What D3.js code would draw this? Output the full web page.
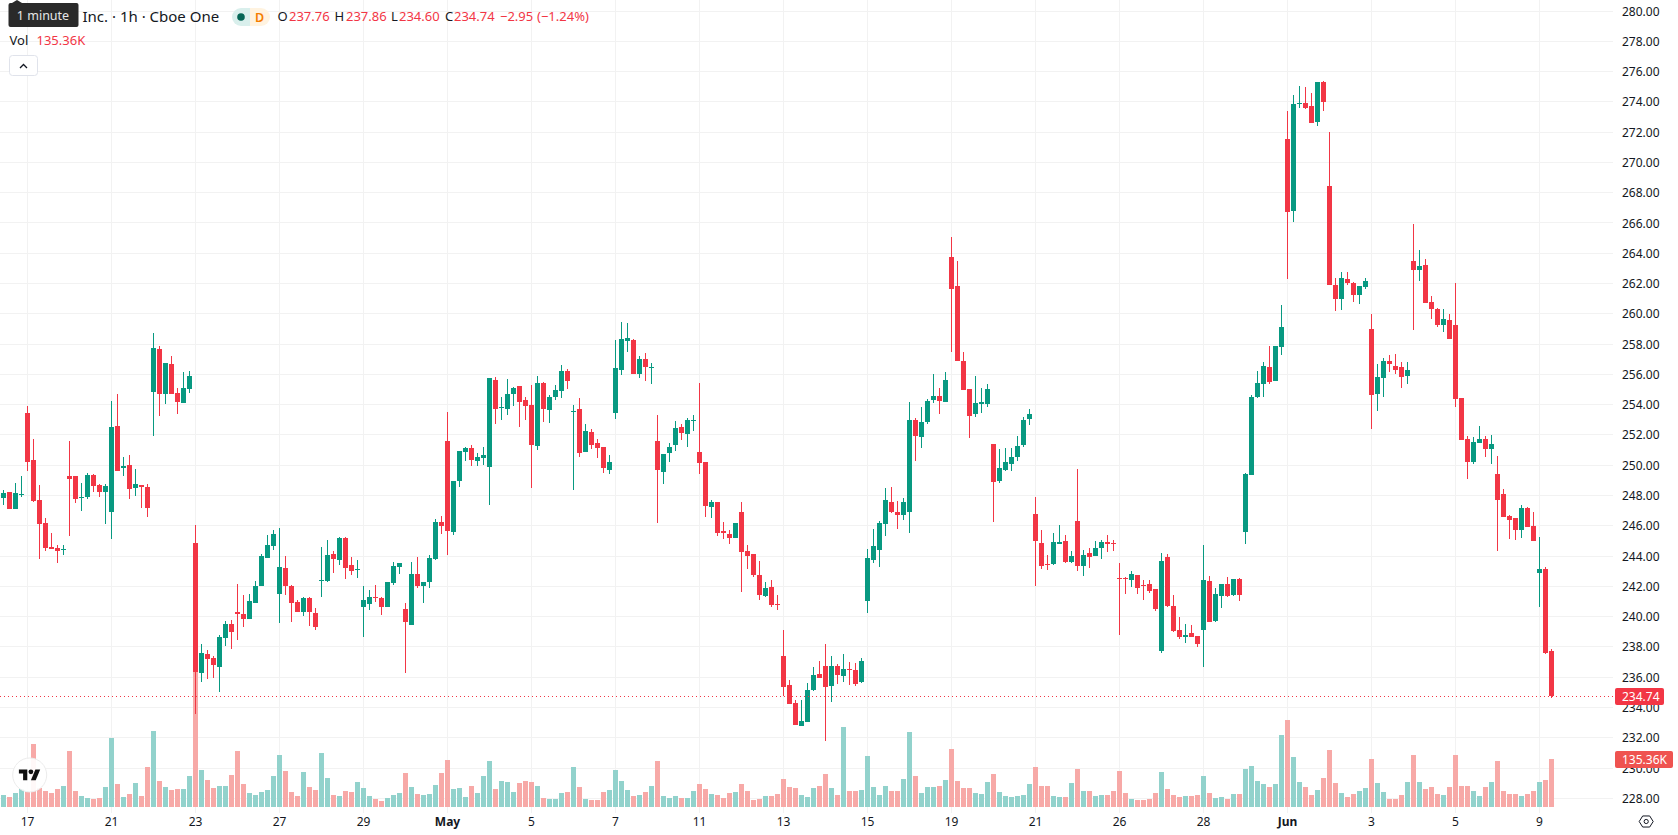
<!DOCTYPE html>
<html>
<head>
<meta charset="utf-8">
<title>Hourly candlesticks</title>
<script src="https://cdn.jsdelivr.net/npm/d3@7"></script>
<style>
  html, body { margin: 0; padding: 0; background: #fff; }
  svg { display: block; }
  text { font-family: "Noto Sans", sans-serif; fill: #131722; }
  .axis path.domain { display: none; }
  .axis line { stroke: #f2f2f2; shape-rendering: crispEdges; }
  .axis text { font-size: 12px; fill: #131722; }
</style>
</head>
<body>
<svg id="chart" width="1678" height="835"></svg>
<script>
// Hourly session bars, oldest first (seven bars per trading day).
const opens = [
  247.83,248.23,247.10,248.03,253.45,250.34,247.70,246.18,244.59,244.53,
  244.40,249.28,249.28,247.83,247.90,249.35,248.69,248.23,246.91,252.59,
  249.81,250.01,248.49,248.69,248.56,254.83,257.67,254.70,256.68,254.77,
  254.11,255.03,244.86,236.27,237.53,237.26,236.67,238.58,239.51,240.30,
  240.17,239.84,240.90,242.02,243.87,244.66,241.49,243.21,242.02,240.96,
  240.30,241.23,240.24,242.35,242.35,244.13,243.74,245.19,243.41,243.08,
  240.63,240.83,241.29,241.23,240.63,242.22,243.27,240.50,239.44,242.81,
  242.02,242.28,243.80,246.25,251.60,245.58,248.95,250.87,251.13,250.27,
  250.47,249.88,255.63,253.78,253.71,254.70,255.23,254.30,253.97,251.27,
  255.43,253.64,254.50,254.90,256.22,253.51,253.71,250.87,252.19,251.46,
  251.20,249.68,253.45,256.29,258.20,258.27,256.02,257.01,256.42,251.60,
  249.55,250.80,251.33,252.52,252.06,252.92,250.87,250.21,247.24,247.57,
  245.65,245.45,245.19,246.91,244.33,244.13,242.74,241.36,241.95,240.83,
  237.39,235.48,234.29,232.77,233.03,235.15,236.20,236.73,235.41,236.73,
  236.07,236.53,236.47,235.68,241.03,243.73,244.40,246.11,247.57,246.91,
  246.71,246.91,252.98,251.86,252.85,254.30,254.57,254.17,263.75,261.84,
  256.88,255.03,253.38,254.04,254.04,251.40,248.95,249.68,250.08,250.54,
  251.33,253.05,246.77,244.86,243.47,243.47,244.79,244.99,243.60,246.31,
  243.34,244.20,244.00,244.53,244.92,244.86,242.55,242.57,242.41,242.74,
  242.08,242.15,241.82,237.72,243.93,240.70,239.11,238.65,238.91,238.71,
  239.11,242.35,239.71,241.36,242.15,241.42,242.48,245.58,249.35,254.50,
  255.36,256.48,255.56,257.81,271.55,266.79,273.86,273.92,273.73,272.67,
  275.31,268.44,261.90,260.98,262.30,262.03,261.24,261.77,259.00,254.70,
  255.76,256.88,256.55,256.48,255.89,263.49,262.89,263.22,260.78,260.32,
  259.26,259.59,259.26,254.44,251.73,250.21,251.46,251.73,251.07,249.42,
  248.09,246.64,246.51,245.72,247.17,245.98,242.88,243.14,237.76
];
const highs = [
  248.36,248.23,248.82,249.28,253.91,251.73,248.69,246.51,245.52,244.73,
  244.73,251.60,249.28,248.82,249.48,249.42,248.76,248.76,254.24,254.70,
  250.54,250.67,249.75,248.69,248.76,258.73,257.87,256.75,257.21,255.10,
  256.15,256.22,246.05,238.19,237.79,237.39,238.78,239.71,239.77,242.15,
  241.42,241.49,242.35,244.13,245.39,245.72,245.85,244.00,242.08,241.09,
  241.29,241.29,240.57,244.60,245.06,244.33,245.26,245.26,243.93,243.74,
  242.02,241.75,242.08,241.29,242.28,243.60,243.54,240.90,243.60,243.93,
  242.28,244.07,246.44,246.64,253.51,248.95,250.94,251.20,251.33,250.80,
  251.20,255.76,255.82,254.50,255.69,255.16,255.23,254.50,255.30,255.89,
  255.49,254.63,255.30,256.62,256.35,253.97,254.44,252.72,252.39,251.73,
  251.20,250.67,258.27,259.46,259.39,258.33,257.21,257.41,256.75,253.31,
  250.74,251.46,252.92,252.72,253.12,253.31,255.43,250.21,247.70,247.57,
  246.25,245.72,246.18,247.57,244.73,244.13,243.67,242.28,242.41,241.42,
  239.11,235.81,234.49,234.49,235.61,236.67,237.06,238.19,237.39,236.86,
  237.53,237.00,236.93,237.26,244.46,245.78,246.31,248.49,248.56,247.63,
  247.83,254.17,253.12,253.84,254.37,256.02,255.10,256.15,265.07,263.49,
  257.48,255.03,255.89,255.10,255.36,251.40,251.07,251.13,251.13,251.93,
  253.18,253.71,247.90,245.72,244.07,245.52,246.05,245.39,244.33,249.75,
  244.40,244.53,244.99,245.06,245.39,245.06,243.54,242.61,243.01,242.74,
  242.41,242.41,241.82,244.20,244.13,241.42,239.97,239.51,239.44,238.71,
  244.73,242.68,241.89,242.15,242.61,242.48,242.55,249.48,254.63,256.22,
  256.81,257.87,257.87,260.58,273.40,274.45,275.05,274.98,274.59,275.31,
  275.38,272.01,262.36,262.76,262.76,262.10,261.84,262.36,259.99,256.68,
  257.08,257.28,257.34,256.81,256.81,265.93,264.21,263.62,261.17,260.38,
  260.32,259.99,262.03,254.44,251.93,251.86,252.59,251.93,251.99,250.61,
  248.43,246.71,246.51,247.37,247.24,246.91,245.25,243.27,237.86
];
const lows = [
  247.37,247.10,247.10,247.90,249.61,247.57,243.80,244.33,244.46,243.54,
  244.07,245.32,247.50,246.97,247.76,248.23,247.90,246.11,245.12,249.61,
  249.28,247.76,247.96,247.17,246.58,251.93,253.25,254.04,254.70,253.38,
  254.11,254.77,233.56,235.68,235.88,235.94,235.02,238.06,237.86,238.45,
  239.31,239.84,240.90,242.02,243.87,244.40,239.57,241.42,239.64,240.30,
  240.04,239.38,239.11,241.29,242.28,242.88,243.41,242.48,242.75,242.55,
  238.65,240.43,240.96,240.10,240.63,242.08,242.81,236.27,239.44,241.89,
  240.90,241.89,243.73,245.45,244.07,245.39,248.56,250.27,249.94,249.94,
  250.01,247.37,252.72,252.98,253.31,253.91,252.52,252.98,248.49,251.00,
  252.85,252.79,254.30,254.44,255.03,248.36,250.54,250.87,251.07,250.47,
  249.48,249.42,253.05,255.96,257.48,256.02,255.76,255.56,255.36,246.18,
  248.76,250.21,250.94,251.66,251.20,252.26,249.42,246.58,246.51,245.32,
  245.12,244.79,245.19,241.62,243.14,242.61,241.09,241.29,240.63,240.43,
  234.75,234.22,232.84,232.77,233.03,235.08,235.94,231.78,234.35,235.54,
  235.68,235.48,235.41,235.61,240.23,243.54,243.27,245.32,246.84,245.78,
  246.38,245.52,250.27,251.13,252.72,254.11,253.38,254.17,257.48,256.88,
  254.97,251.79,253.18,253.45,253.84,246.25,248.82,249.61,249.61,250.27,
  251.20,252.65,242.02,243.14,243.07,243.40,244.79,243.54,243.54,243.01,
  242.68,243.21,244.00,243.80,244.26,244.33,238.78,241.49,241.95,241.49,
  241.09,241.55,240.37,237.59,240.63,238.98,238.52,238.25,238.65,237.99,
  236.67,239.64,239.64,240.56,241.29,241.36,241.03,244.79,249.35,254.44,
  254.50,255.36,255.56,257.28,262.30,266.06,273.59,273.53,272.60,272.41,
  273.40,261.90,260.18,260.25,261.90,260.78,260.65,261.64,252.39,253.58,
  254.50,256.15,256.02,255.10,255.36,258.93,262.17,260.71,259.66,259.13,
  258.80,258.33,253.84,251.66,249.09,250.08,251.46,250.54,250.08,244.33,
  246.58,245.12,245.06,245.19,245.92,244.99,240.63,237.53,234.60
];
const closes = [
  248.16,247.10,248.16,248.09,250.21,247.63,246.11,244.53,244.46,244.33,
  244.46,249.09,247.76,247.90,249.35,248.62,248.23,248.62,252.52,249.61,
  249.94,248.43,248.76,248.56,247.17,257.74,254.70,256.75,254.70,254.17,
  255.10,255.89,236.34,237.59,237.20,236.80,238.65,239.51,238.98,240.17,
  239.84,241.03,242.02,244.00,244.73,245.45,243.27,242.02,240.90,240.30,
  241.23,240.30,239.31,242.42,244.07,243.80,245.19,243.21,243.01,243.14,
  241.09,241.29,241.23,240.63,242.28,243.34,243.54,239.64,242.81,242.02,
  242.28,243.87,246.25,245.98,245.65,248.95,250.94,251.13,250.34,250.54,
  250.67,255.76,253.71,253.84,254.70,255.10,254.17,253.91,251.33,255.43,
  253.71,254.50,254.97,256.22,255.56,253.58,250.80,252.26,251.33,251.13,
  249.81,250.21,256.42,258.33,258.40,256.02,257.01,256.48,256.48,249.68,
  250.74,251.20,252.45,252.12,252.98,252.98,250.14,247.30,247.57,245.52,
  245.52,245.19,246.18,244.26,244.00,242.74,241.42,241.89,240.76,240.76,
  235.35,234.22,232.84,233.10,235.15,236.14,235.94,235.35,236.73,236.14,
  236.53,236.47,235.54,237.06,243.87,244.66,246.18,247.70,246.91,246.71,
  247.57,252.98,251.93,252.85,254.24,254.57,254.24,255.63,261.64,256.88,
  254.97,253.25,254.11,254.17,255.03,248.89,249.81,250.21,250.54,251.27,
  252.98,253.38,244.99,243.34,243.40,244.92,244.92,243.60,244.00,243.34,
  244.07,243.93,244.53,244.92,244.79,244.79,242.48,242.48,242.81,241.89,
  242.02,241.69,240.50,243.67,240.70,239.04,238.65,238.78,238.65,238.19,
  242.41,239.64,241.49,242.15,241.36,242.48,241.42,249.42,254.50,255.43,
  256.55,255.49,257.87,259.13,266.72,273.86,273.92,273.59,272.60,275.31,
  273.99,261.90,260.98,262.36,262.03,261.24,261.84,262.17,254.63,255.82,
  256.88,256.68,256.29,255.82,256.29,262.89,263.16,260.71,260.32,259.26,
  259.66,258.33,254.37,251.66,250.21,251.53,251.73,251.07,251.40,247.70,
  246.58,246.38,245.72,247.17,245.92,244.99,243.14,237.59,234.74
];
// Traded volume per bar, in thousands of shares.
const volumes = [
  33.8,28.2,39.5,50.8,43.2,177.7,52.6,45.1,39.5,50.8,
  59.2,157.9,45.1,31.0,25.4,22.6,25.4,56.4,194.6,64.9,
  28.2,36.7,67.7,31.0,112.8,214.3,73.3,56.4,47.9,50.8,
  50.8,87.4,390.0,104.3,76.1,53.6,59.2,59.2,90.2,157.9,
  64.9,39.5,33.8,42.3,47.9,87.4,146.6,101.5,42.3,31.0,
  98.7,56.4,47.9,152.3,81.8,33.8,31.0,45.1,42.3,70.5,
  53.6,31.0,22.6,16.9,25.4,33.8,39.5,95.9,56.4,36.7,
  33.8,36.7,62.0,95.9,132.5,50.8,53.6,28.2,59.2,39.5,
  87.4,129.7,50.8,73.3,70.5,42.3,67.7,73.3,70.5,59.2,
  25.4,22.6,22.6,39.5,42.3,112.8,56.4,22.6,19.7,19.7,
  42.3,47.9,104.3,73.3,47.9,31.0,33.8,42.3,59.2,129.7,
  31.0,25.4,31.0,25.4,25.4,45.1,64.9,50.8,36.7,33.8,
  25.4,39.5,42.3,64.9,45.1,19.7,22.6,31.0,31.0,36.7,
  79.0,56.4,53.6,33.8,28.2,53.6,59.2,93.1,53.6,33.8,
  225.6,45.1,45.1,47.9,143.8,56.4,33.8,59.2,45.1,45.1,
  79.0,211.5,87.4,39.5,56.4,56.4,59.2,76.1,163.6,73.3,
  53.6,53.6,39.5,36.7,70.5,93.1,42.3,31.0,28.2,31.0,
  33.8,64.9,112.8,59.2,59.2,31.0,28.2,28.2,67.7,107.2,
  45.1,45.1,31.0,33.8,33.8,45.1,101.5,39.5,22.6,19.7,
  19.7,22.6,39.5,98.7,50.8,33.8,28.2,31.0,31.0,33.8,
  87.4,39.5,25.4,28.2,22.6,36.7,36.7,107.2,115.6,73.3,
  64.9,56.4,64.9,203.0,245.3,141.0,70.5,56.4,33.8,47.9,
  81.8,160.7,67.7,39.5,28.2,36.7,45.1,53.6,135.4,67.7,
  42.3,22.6,22.6,33.8,70.5,146.6,70.5,50.8,56.4,36.7,
  33.8,56.4,146.6,59.2,59.2,45.1,31.0,56.4,70.5,129.7,
  45.1,36.7,36.7,31.0,36.7,45.1,70.5,76.1,135.36
];
const priceTicks = d3.range(228, 281, 2);
const dateTickBars = [4,18,32,46,60,74,88,102,116,130,144,158,172,186,200,214,228,242,256];
const dateTickLabels = ["17","21","23","27","29","May","5","7","11","13","15","19","21","26","28","Jun","3","5","9"];
const boldDateLabels = ["May","Jun"];
const headerStats = { O: "237.76", H: "237.86", L: "234.60", C: "234.74" };
const lastClose = closes[closes.length - 1];
const lastVolume = volumes[volumes.length - 1];

const UP = "#089981", DOWN = "#F23645";
const UP_VOL = "#92D2CC", DOWN_VOL = "#F7A9A7";

const svg = d3.select("#chart");
const paneRight = 1613, paneBottom = 813;

const x = d3.scaleLinear().domain([0, closes.length - 1]).range([3.5, 1551.5]);
const y = d3.scaleLinear().domain([228, 280]).range([798.3, 11]);
const v = d3.scaleLinear().domain([0, 400]).range([807, 665.2]);

// Axes carry the gridlines as well as the labels.
const yAxis = d3.axisRight(y).tickValues(priceTicks).tickFormat(d3.format(".2f"))
  .tickSize(-paneRight).tickPadding(9).offset(0);
const yAxisG = svg.append("g").attr("class", "axis")
  .attr("transform", `translate(${paneRight},0)`).call(yAxis);
yAxisG.selectAll("text").attr("y", 0.7);

const dateLabel = d3.scaleOrdinal().domain(dateTickBars).range(dateTickLabels);
const xAxis = d3.axisBottom(x).tickValues(dateTickBars).tickFormat(dateLabel)
  .tickSize(-paneBottom).tickPadding(4).offset(0);
const xAxisG = svg.append("g").attr("class", "axis")
  .attr("transform", `translate(0,${paneBottom})`).call(xAxis);
xAxisG.selectAll("text")
  .style("font-weight", d => boldDateLabels.includes(dateLabel(d)) ? 700 : 400);

const bars = d3.range(closes.length);
const isUp = i => closes[i] >= opens[i];

// Volume columns sit behind the candles.
svg.append("g").selectAll("rect").data(bars).join("rect")
  .attr("x", i => x(i) - 2.5).attr("width", 5)
  .attr("y", i => Math.round(v(volumes[i])))
  .attr("height", i => 807 - Math.round(v(volumes[i])))
  .attr("fill", i => isUp(i) ? UP_VOL : DOWN_VOL)
  .attr("shape-rendering", "crispEdges");

const candles = svg.append("g");
candles.selectAll("rect.wick").data(bars).join("rect").attr("class", "wick")
  .attr("x", i => x(i) - 0.5).attr("width", 1)
  .attr("y", i => Math.round(y(highs[i])))
  .attr("height", i => Math.max(1, Math.round(y(lows[i])) - Math.round(y(highs[i]))))
  .attr("fill", i => isUp(i) ? UP : DOWN)
  .attr("shape-rendering", "crispEdges");
candles.selectAll("rect.body").data(bars).join("rect").attr("class", "body")
  .attr("x", i => x(i) - 2.5).attr("width", 5)
  .attr("y", i => Math.round(y(Math.max(opens[i], closes[i]))))
  .attr("height", i => Math.max(1, Math.round(y(Math.min(opens[i], closes[i]))) - Math.round(y(Math.max(opens[i], closes[i])))))
  .attr("fill", i => isUp(i) ? UP : DOWN)
  .attr("shape-rendering", "crispEdges");

// Last price marker: dotted line plus axis tags.
const lastY = Math.floor(y(lastClose)) + 0.5;
svg.append("line").attr("x1", 0).attr("x2", 1615).attr("y1", lastY).attr("y2", lastY)
  .attr("stroke", DOWN).attr("stroke-width", 1).attr("stroke-dasharray", "1 3");

function axisTag(cy, width, fill, label) {
  svg.append("rect").attr("x", 1615).attr("y", cy - 8.5).attr("width", width).attr("height", 17)
    .attr("rx", 2).attr("fill", fill);
  svg.append("text").attr("x", 1622).attr("y", cy + 4.3).style("fill", "#fff").style("font-size", "12px")
    .text(label);
}
axisTag(lastY, 49, DOWN, lastClose.toFixed(2));
axisTag(759.5, 58, "#EF5350", lastVolume.toFixed(2) + "K");

// Floating logo badge over the bottom-left corner of the pane.
const badge = svg.append("g").attr("transform", "translate(29.7,775)");
badge.append("circle").attr("r", 17).attr("fill", "rgba(255,255,255,0.92)").attr("stroke", "#ececec").attr("stroke-width", 1);
const mark = badge.append("g").attr("transform", "translate(-10.8,-5.6) scale(0.6)").attr("fill", "#0f0f0f");
mark.append("path").attr("d", "M14 18H7V7H0V0h14v18z");
mark.append("path").attr("d", "M28 18h-8l7.5-18h8L28 18z");
mark.append("circle").attr("cx", 20).attr("cy", 4).attr("r", 4);

// Settings glyph beside the time axis.
const hexPts = d3.range(6).map(k => {
  const a = Math.PI / 3 * k;
  return [1646.2 + 7 * Math.cos(a), 821.5 + 6.4 * Math.sin(a)];
});
svg.append("path").attr("d", d3.line().curve(d3.curveLinearClosed)(hexPts))
  .attr("fill", "none").attr("stroke", "#131722").attr("stroke-width", 1).attr("stroke-linejoin", "round");
svg.append("circle").attr("cx", 1646.2).attr("cy", 821.5).attr("r", 2.1)
  .attr("fill", "none").attr("stroke", "#131722").attr("stroke-width", 1);

// Legend row: title, status pill, OHLC values.
svg.append("text").attr("x", 82.5).attr("y", 21.5).style("font-size", "15px").text("Inc. · 1h · Cboe One");

svg.append("path").attr("d", "M250 8H241a9 9 0 0 0 0 18h9z").attr("fill", "#d9efec");
svg.append("path").attr("d", "M250 8h11a9 9 0 0 1 0 18h-11z").attr("fill", "#fff3e0");
svg.append("circle").attr("cx", 241).attr("cy", 17).attr("r", 3.8).attr("fill", "#056656");
svg.append("text").attr("x", 255).attr("y", 21.5).style("font-size", "12.5px").style("font-weight", 600)
  .style("fill", "#f57c00").text("D");

const ohlcSpots = [["O", 277.5, 289], ["H", 334.5, 346], ["L", 391, 399], ["C", 445, 454]];
ohlcSpots.forEach(([key, kx, vx]) => {
  svg.append("text").attr("x", kx).attr("y", 21).style("font-size", "13px").text(key);
  svg.append("text").attr("x", vx).attr("y", 21).style("font-size", "13px").style("fill", DOWN).text(headerStats[key]);
});
svg.append("text").attr("x", 500).attr("y", 21).style("font-size", "13px").style("fill", DOWN).text("−2.95");
svg.append("text").attr("x", 537).attr("y", 21).style("font-size", "13px").style("fill", DOWN).text("(−1.24%)");

svg.append("text").attr("x", 9.5).attr("y", 45).style("font-size", "13px").text("Vol");
svg.append("text").attr("x", 36.5).attr("y", 45).style("font-size", "13px").style("fill", DOWN).text(lastVolume.toFixed(2) + "K");

// Collapse button under the legend.
svg.append("rect").attr("x", 9.5).attr("y", 55.5).attr("width", 28).attr("height", 20).attr("rx", 3)
  .attr("fill", "#fff").attr("stroke", "#e0e3eb");
svg.append("path").attr("d", "M20 68l3.5-3.5L27 68").attr("fill", "none").attr("stroke", "#131722").attr("stroke-width", 1.3);

// Hover hint that overlaps the start of the title.
svg.append("path").attr("d", "M12 3l5-3 5 3z").attr("fill", "#2a2a2a");
svg.append("rect").attr("x", 8.5).attr("y", 3).attr("width", 70).attr("height", 24).attr("rx", 2).attr("fill", "#2a2a2a");
svg.append("text").attr("x", 43).attr("y", 19.5).attr("text-anchor", "middle").style("font-size", "12.5px")
  .style("fill", "#e6e6e6").text("1 minute");
</script>
</body>
</html>
